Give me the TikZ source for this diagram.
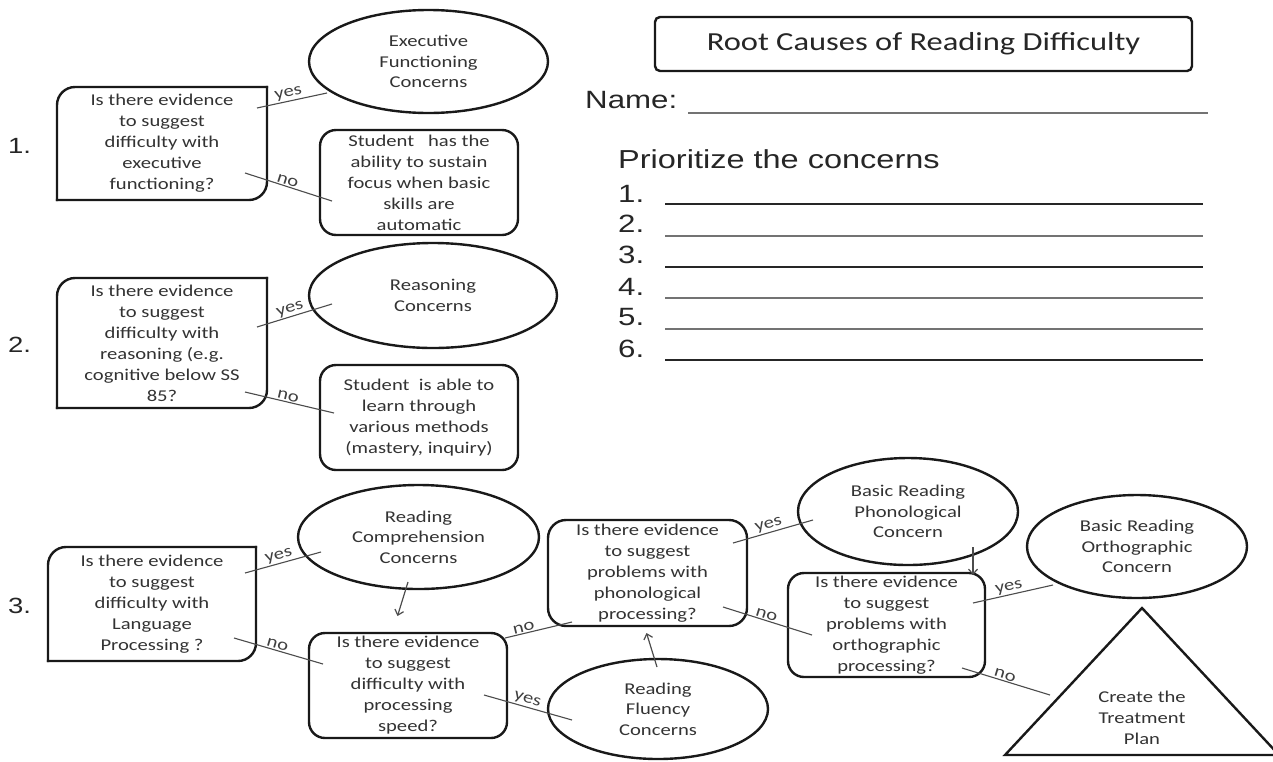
\documentclass[tikz,border=0pt]{standalone}
\usepackage{fontspec}
\setmainfont{Carlito}[FakeStretch=1.25]
\newfontfamily\arialf{Liberation Sans}[FakeStretch=1.25]
\usetikzlibrary{shapes.geometric,arrows.meta}

% frame with rounded top-left and bottom-right corners only
\newcommand\qframe[1]{%
  \draw[boxline, rounded corners=18pt, line cap=rect] (#1.south west) |- (#1.north east);
  \draw[boxline, rounded corners=18pt, line cap=rect] (#1.north east) |- (#1.south west);}

\tikzset{
  boxline/.style={line width=2.4pt, draw=black!90},
  btext/.style={font=\fontsize{16.5}{21}\selectfont, text=black!80, align=center, inner sep=0pt, outer sep=0pt},
  question/.style={btext, rectangle},
  roundbox/.style={btext, rectangle, draw, boxline, rounded corners=16pt},
  concern/.style={btext, ellipse, draw, boxline, font=\fontsize{16.5}{20.5}\selectfont},
  link/.style={line width=1.1pt, draw=black!70},
  lab/.style={font=\fontsize{16.5}{16.5}\selectfont, text=black!75, sloped, above=0pt, inner sep=1pt, pos=0.47},
  flow/.style={line width=1.2pt, draw=black!70, -{Straight Barb[length=5pt,width=9pt]}},
  num/.style={font=\arialf\fontsize{22}{22}\selectfont, text=black!85, anchor=base west, inner sep=0pt},
  sheet/.style={font=\arialf\fontsize{25}{25}\selectfont, text=black!85, anchor=base west, inner sep=0pt},
  blank/.style={line width=2pt}
}

\begin{document}
\begin{tikzpicture}[x=1pt,y=-1pt]
\useasboundingbox (0,0) rectangle (1273,761);
\fill[white] (0,0) rectangle (1273,761);

% ---------- header and worksheet ----------
\node[btext, draw, boxline, rounded corners=5pt, minimum width=537pt, minimum height=54pt,
      font=\fontsize{26}{30}\selectfont, text=black!85] (title) at (923.5,44) {Root Causes of Reading Difficulty};
\node[sheet] (name) at (585,108) {Name:};
\draw[blank, black!55] (688,113) -- (1208,113);
\node[sheet, font=\arialf\fontsize{26}{26}\selectfont] (prio) at (618,168) {Prioritize the concerns};
\foreach \n/\b/\l/\c in {1/202/204/85, 2/232/236/55, 3/263/267/85, 4/295/298/55, 5/325/329/55, 6/357/360/85}{
  \node[sheet] (p\n) at (618,\b) {\n.};
  \draw[blank, black!\c] (665,\l) -- (1203,\l);
}

% ---------- step numbers ----------
\node[num] (n1) at (8,153) {1.};
\node[num] (n2) at (8,352) {2.};
\node[num] (n3) at (8,613) {3.};

% ---------- 1. executive functioning ----------
\node[question, minimum width=210pt, minimum height=113pt] (d1) at (162,143.5)
  {Is there evidence\\to suggest\\difficulty with\\executive\\functioning?};
\qframe{d1}
\node[concern, minimum width=239pt, minimum height=103pt] (e1) at (428.5,61.5)
  {Executive\\Functioning\\Concerns};
\node[roundbox, minimum width=198pt, minimum height=105pt] (s1) at (419,182.5)
  {Student\ \ \ has the\\ability to sustain\\focus when basic\\skills are\\automatic};
\draw[link] ([shift={(95,-35.5)}]d1.center) -- node[lab]{yes} ([shift={(-101.5,31.5)}]e1.center);
\draw[link] ([shift={(83,29.5)}]d1.center) -- node[lab]{no} ([shift={(-87,18.5)}]s1.center);

% ---------- 2. reasoning ----------
\node[question, minimum width=210pt, minimum height=130pt] (d2) at (162,343)
  {Is there evidence\\to suggest\\difficulty with\\reasoning (e.g.\\cognitive below SS\\85?};
\qframe{d2}
\node[concern, minimum width=248pt, minimum height=105pt] (e2) at (433,295.5)
  {Reasoning\\Concerns};
\node[roundbox, minimum width=198pt, minimum height=105pt] (s2) at (419,417.5)
  {Student\ \ is able to\\learn through\\various methods\\(mastery, inquiry)};
\draw[link] ([shift={(95,-16)}]d2.center) -- node[lab]{yes} ([shift={(-101,8.5)}]e2.center);
\draw[link] ([shift={(83,49)}]d2.center) -- node[lab]{no} ([shift={(-85,-4.5)}]s2.center);

% ---------- 3. language processing chain ----------
\node[question, minimum width=208pt, minimum height=114pt] (d3) at (152,604)
  {Is there evidence\\to suggest\\difficulty with\\Language\\Processing ?};
\qframe{d3}
\node[concern, minimum width=241pt, minimum height=104pt] (rc) at (418.5,537)
  {Reading\\Comprehension\\Concerns};
\node[roundbox, minimum width=198pt, minimum height=105pt] (ps) at (408,685.5)
  {Is there evidence\\to suggest\\difficulty with\\processing\\speed?};
\node[roundbox, minimum width=199pt, minimum height=106pt, rounded corners=18pt] (pp) at (647.5,573)
  {Is there evidence\\to suggest\\problems with\\phonological\\processing?};
\node[concern, minimum width=220pt, minimum height=100pt] (rf) at (658,709)
  {Reading\\Fluency\\Concerns};
\node[roundbox, minimum width=197pt, minimum height=104pt] (op) at (886.5,625)
  {Is there evidence\\to suggest\\problems with\\orthographic\\processing?};
\node[concern, minimum width=220pt, minimum height=107pt] (brp) at (908,511.5)
  {Basic Reading\\Phonological\\Concern};
\node[concern, minimum width=220pt, minimum height=103pt] (bro) at (1137,546.5)
  {Basic Reading\\Orthographic\\Concern};
\node[btext] (plan) at (1142,718) {Create the\\Treatment\\Plan};
\draw[boxline, line join=miter] ([shift={(0,-110)}]plan.center) -- ([shift={(-137,37)}]plan.center)
  -- ([shift={(137,37)}]plan.center) -- cycle;

\draw[link] ([shift={(93,-31)}]d3.center) -- node[lab]{yes} ([shift={(-97.5,15)}]rc.center);
\draw[link] ([shift={(82,34)}]d3.center) -- node[lab]{no} ([shift={(-85,-21.5)}]ps.center);
\draw[flow] ([shift={(-10.5,45)}]rc.center) -- ([shift={(-10.5,-69.5)}]ps.center);
\draw[link] ([shift={(97,-47.5)}]ps.center) -- node[lab, pos=0.3]{no} ([shift={(-75.5,49)}]pp.center);
\draw[link] ([shift={(76,9.5)}]ps.center) -- node[lab]{yes} ([shift={(-86,11)}]rf.center);
\draw[flow] ([shift={(-1,-42)}]rf.center) -- ([shift={(-1,60)}]pp.center);
\draw[link] ([shift={(85.5,-30)}]pp.center) -- node[lab]{yes} ([shift={(-95,8.5)}]brp.center);
\draw[link] ([shift={(75.5,34)}]pp.center) -- node[lab]{no} ([shift={(-74.5,10)}]op.center);
\draw[flow] ([shift={(65,35.5)}]brp.center) -- ([shift={(86.5,-50)}]op.center);
\draw[link] ([shift={(86.5,-22)}]op.center) -- node[lab]{yes} ([shift={(-84,38.5)}]bro.center);
\draw[link] ([shift={(75.5,43)}]op.center) -- node[lab]{no} ([shift={(-92,-23)}]plan.center);
\end{tikzpicture}
\end{document}
